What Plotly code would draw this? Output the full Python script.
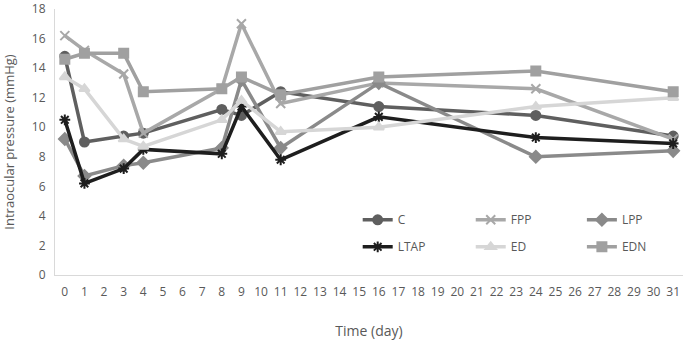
import plotly.graph_objects as go

days = [0, 1, 3, 4, 8, 9, 11, 16, 24, 31]
x_ticks = list(range(0, 32))

C = [14.8, 9.0, 9.4, 9.6, 11.2, 10.8, 12.4, 11.4, 10.8, 9.4]
FPP = [16.2, 15.2, 13.6, 9.6, 12.6, 17.0, 11.6, 13.0, 12.6, 9.2]
LPP = [9.2, 6.7, 7.4, 7.6, 8.6, 13.2, 8.6, 13.0, 8.0, 8.4]
LTAP = [10.5, 6.2, 7.2, 8.5, 8.2, 11.4, 7.8, 10.7, 9.3, 8.9]
ED = [13.4, 12.6, 9.2, 8.7, 10.5, 11.8, 9.7, 10.0, 11.4, 12.0]
EDN = [14.6, 15.0, 15.0, 12.4, 12.6, 13.4, 12.2, 13.4, 13.8, 12.4]

series = [
    ("C", C, "#5f5f5f", "circle", 9, "legend"),
    ("FPP", FPP, "#a8a8a8", "x-thin-open", 9, "legend2"),
    ("LPP", LPP, "#8a8a8a", "diamond", 9, "legend3"),
    ("LTAP", LTAP, "#1e1e1e", "asterisk-open", 9, "legend"),
    ("ED", ED, "#d6d6d6", "triangle-up", 9, "legend2"),
    ("EDN", EDN, "#a0a0a0", "square", 9, "legend3"),
]

fig = go.Figure()
for name, vals, col, sym, sz, leg in series:
    fig.add_trace(go.Scatter(
        x=days, y=vals, name=name, mode="lines+markers",
        line=dict(color=col, width=3.5),
        marker=dict(symbol=sym, size=sz, color=col, line=dict(color=col, width=2)),
        legend=leg, legendgroup=name,
    ))

font = dict(family="Open Sans, sans-serif", size=11, color="#595959")
leg_common = dict(font=dict(family="Open Sans, sans-serif", size=12, color="#595959"),
                  bgcolor="rgba(0,0,0,0)", tracegroupgap=8, yanchor="top",
                  xanchor="left", y=0.262, itemwidth=30)

fig.update_layout(
    width=685, height=343,
    margin=dict(l=55, r=2, t=9, b=68),
    paper_bgcolor="white", plot_bgcolor="white",
    font=font,
    showlegend=True,
    legend=dict(x=0.482, **leg_common),
    legend2=dict(x=0.662, **leg_common),
    legend3=dict(x=0.839, **leg_common),
    xaxis=dict(
        range=[-0.5, 31.5], tickmode="array", tickvals=x_ticks,
        ticktext=[str(t) for t in x_ticks], showgrid=False, zeroline=False,
        showline=True, linecolor="#d9d9d9", linewidth=1, ticks="",
        automargin=False, ticklabelstandoff=6,
        tickfont=dict(size=12, color="#595959"),
        title=dict(text="Time (day)", font=dict(size=14, color="#595959"), standoff=26),
    ),
    yaxis=dict(
        range=[0, 18], dtick=2, showgrid=False, zeroline=False,
        showline=True, linecolor="#d9d9d9", linewidth=1, ticks="",
        automargin=False, ticklabelstandoff=6, ticklabeloverflow="allow",
        tickfont=dict(size=12, color="#595959"),
        title=dict(text="Intraocular pressure (mmHg)", font=dict(size=13, color="#595959"), standoff=14),
    ),
)

fig.write_html("out.html", config={"displayModeBar": False},
               post_script="document.body.style.margin='0';document.body.style.overflow='hidden';")
